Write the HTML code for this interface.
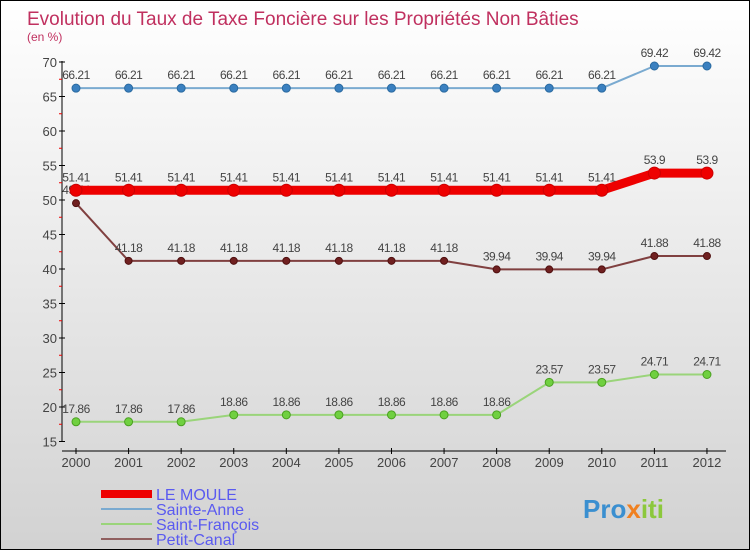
<!DOCTYPE html>
<html><head><meta charset="utf-8"><style>
body{margin:0}
#c{width:750px;height:550px;position:relative;box-sizing:border-box;border:1px solid #000;background:linear-gradient(#fff,#d2d2d2);font-family:"Liberation Sans",sans-serif;overflow:hidden}
</style></head><body>
<div id="c">
<svg width="748" height="548" xmlns="http://www.w3.org/2000/svg" id="svg">
<text x="26" y="24" font-size="19" fill="#c0305f">Evolution du Taux de Taxe Foncière sur les Propriétés Non Bâties</text>
<text x="26" y="40" font-size="12" fill="#c0305f">(en %)</text>
<g id="axes"></g><g id="series"></g>
<g>
<rect x="100" y="489" width="51" height="8" fill="#e00"/>
<text x="155" y="499" font-size="16" fill="#5a5af0">LE MOULE</text>
<line x1="100" y1="508" x2="151" y2="508" stroke="#7aaad0" stroke-width="2"/>
<text x="155" y="514" font-size="16" fill="#5a5af0">Sainte-Anne</text>
<line x1="100" y1="523" x2="151" y2="523" stroke="#9ad47a" stroke-width="2"/>
<text x="155" y="529" font-size="16" fill="#5a5af0">Saint-François</text>
<line x1="100" y1="538" x2="151" y2="538" stroke="#906060" stroke-width="2"/>
<text x="155" y="544" font-size="16" fill="#5a5af0">Petit-Canal</text>
</g>
<text x="582" y="517" font-size="26" font-weight="bold" fill="#3a8fd0">Pro<tspan fill="#f08020">x</tspan><tspan fill="#8cc83c">iti</tspan></text>
</svg></div>
<script>
const years=[2000,2001,2002,2003,2004,2005,2006,2007,2008,2009,2010,2011,2012];
const yTicks=[15,20,25,30,35,40,45,50,55,60,65,70];
const leMoule=[51.41,51.41,51.41,51.41,51.41,51.41,51.41,51.41,51.41,51.41,51.41,53.9,53.9];
const sainteAnne=[66.21,66.21,66.21,66.21,66.21,66.21,66.21,66.21,66.21,66.21,66.21,69.42,69.42];
const saintFrancois=[17.86,17.86,17.86,18.86,18.86,18.86,18.86,18.86,18.86,23.57,23.57,24.71,24.71];
const petitCanal=[49.54,41.18,41.18,41.18,41.18,41.18,41.18,41.18,39.94,39.94,39.94,41.88,41.88];
const NS="http://www.w3.org/2000/svg";
const X=i=>75+i*52.58, Y=v=>61+(70-v)*6.9;
function mk(t,a,p){const e=document.createElementNS(NS,t);for(const k in a)e.setAttribute(k,a[k]);p.appendChild(e);return e;}
const ax=document.getElementById('axes');
let l=mk('line',{x1:61,y1:60,x2:61,y2:441,stroke:'#000'},ax);


yTicks.forEach(v=>{
 mk('line',{x1:58,x2:64,y1:Y(v),y2:Y(v),stroke:'#000'},ax);
 if(v<70)mk('line',{x1:58,x2:61,y1:Y(v+2.5),y2:Y(v+2.5),stroke:'#e00'},ax);
 const t=mk('text',{x:56,y:Y(v)+5,'font-size':13,fill:'#444','text-anchor':'end'},ax);t.textContent=v;
 
 
});
l=mk('line',{x1:61,y1:450,x2:725,y2:450,stroke:'#000'},ax);


years.forEach((y,i)=>{
 mk('line',{x1:X(i),x2:X(i),y1:447,y2:453,stroke:'#000'},ax);
 const t=mk('text',{x:X(i),y:466,'font-size':13,fill:'#444','text-anchor':'middle'},ax);t.textContent=y;
 
 
});
const sg=document.getElementById('series');
function series(name,data,color,w,dot,dotStroke,r){
 const g=mk('g',{},sg);
 
 
 const p=mk('polyline',{points:data.map((v,i)=>X(i)+','+Y(v)).join(' '),fill:'none',stroke:color,'stroke-width':w,'stroke-linejoin':'round'},g);
 
 
 data.forEach((v,i)=>{
  const c=mk('circle',{cx:X(i),cy:Y(v),r:r,fill:dot,stroke:dotStroke},g);
  
  
  const t=mk('text',{x:X(i),y:Y(v)-9,'font-size':12,fill:'#444','text-anchor':'middle','letter-spacing':'-0.5'},g);t.textContent=v;
  
  
 });
}
series('sainte-anne',sainteAnne,'#7aaad0',2,'#3a80c0','#2a6aa0',4);
series('petit-canal',petitCanal,'#804040',2,'#702020','#501010',3.5);
series('saint-francois',saintFrancois,'#9ad47a',2,'#70d040','#4aa020',4);
series('le-moule',leMoule,'#ee0000',9,'#ee0000','#c00',6);
</script>
</body></html>
